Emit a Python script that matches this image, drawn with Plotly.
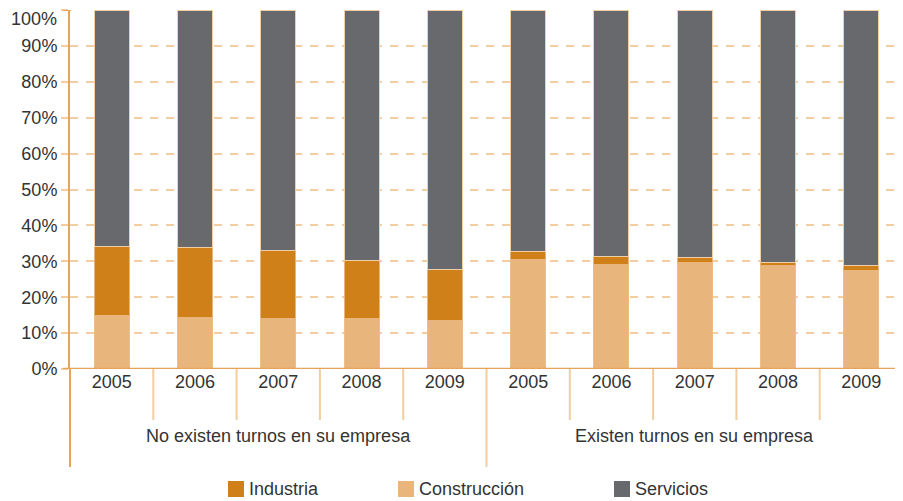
import plotly.graph_objects as go

years = ["2005", "2006", "2007", "2008", "2009", "2005", "2006", "2007", "2008", "2009"]
groups = ["No existen turnos en su empresa", "Existen turnos en su empresa"]
construccion = [14.8, 14.4, 14.0, 14.0, 13.4, 30.5, 29.2, 29.8, 28.8, 27.3]
industria = [19.4, 19.4, 19.0, 16.2, 14.4, 2.3, 2.0, 1.2, 1.0, 1.5]
servicios = [round(100 - c - i, 1) for c, i in zip(construccion, industria)]
legend_names = ["Industria", "Construcción", "Servicios"]
y_tickvals = [0, 10, 20, 30, 40, 50, 60, 70, 80, 90, 100]
y_ticktext = ["0%", "10%", "20%", "30%", "40%", "50%", "60%", "70%", "80%", "90%", "100%"]

C_IND = "#CF8019"
C_CON = "#E8B67C"
C_SER = "#68696D"
AXIS = "#E6A35A"
GRID = "#F3CCA0"
TXT = "#333333"
FONT = "Liberation Sans"
FS = 18

# the page body has an 8px margin; work in page pixels and convert
OFF = 8
W, H = 903 - OFF, 501 - OFF
PL, PT, PR, PB = 70, 10, 903, 369  # plot area in page pixels
L, T = PL - OFF, PT - OFF
R = W - (PR - OFF)
B = H - (PB - OFF)
PH = PB - PT
PW = PR - PL


def py(pix):
    return (PB - pix) / PH


def px(pix):
    return (pix - PL) / PW


xs = list(range(len(years)))
fig = go.Figure()
fig.add_trace(go.Bar(x=xs, y=construccion, name="Construcción", marker=dict(color=C_CON, line=dict(color="#EDBE88", width=1))))
fig.add_trace(go.Bar(x=xs, y=industria, name="Industria", marker=dict(color=C_IND, line=dict(color="#E8B67C", width=1))))
fig.add_trace(go.Bar(x=xs, y=servicios, name="Servicios", marker=dict(color=C_SER, line=dict(color="#F0CFA8", width=1))))

shapes = []
for k in range(1, len(years)):
    xb = k - 0.5
    y1 = py(467) if k == 5 else py(420)
    shapes.append(dict(type="line", xref="x", yref="paper", x0=xb, x1=xb, y0=0, y1=y1, line=dict(color=GRID, width=2)))
shapes.append(dict(type="line", xref="paper", yref="paper", x0=0, x1=0, y0=0, y1=py(467), line=dict(color=AXIS, width=2)))
shapes.append(dict(type="line", xref="paper", yref="y", x0=px(63), x1=px(71), y0=100, y1=100, line=dict(color=AXIS, width=2)))
shapes.append(dict(type="line", xref="paper", yref="y", x0=px(63), x1=1, y0=0, y1=0, line=dict(color=AXIS, width=2.5)))

annotations = [
    dict(x=2, y=py(436), xref="x", yref="paper", text=groups[0], showarrow=False, yanchor="middle", xanchor="center",
         font=dict(size=FS, color=TXT, family=FONT)),
    dict(x=7, y=py(436), xref="x", yref="paper", text=groups[1], showarrow=False, yanchor="middle", xanchor="center",
         font=dict(size=FS, color=TXT, family=FONT)),
    # top tick label placed as high as the page allows
    dict(x=px(58), y=py(OFF), xref="paper", yref="paper", text=y_ticktext[-1], showarrow=False,
         xanchor="right", yanchor="top", borderpad=0, font=dict(size=FS, color=TXT, family=FONT)),
]

leg_x = [228, 398, 614]
leg_col = [C_IND, C_CON, C_SER]
for name, lx, col in zip(legend_names, leg_x, leg_col):
    shapes.append(dict(type="rect", xref="paper", yref="paper", x0=px(lx), x1=px(lx + 16), y0=py(497), y1=py(481),
                       fillcolor=col, line=dict(width=0)))
    annotations.append(dict(x=px(lx + 19), y=py(489), xref="paper", yref="paper", text=name, showarrow=False,
                            xanchor="left", yanchor="middle", font=dict(size=FS, color=TXT, family=FONT)))

fig.update_layout(
    width=W, height=H,
    margin=dict(l=L, r=R, t=T, b=B, pad=0),
    barmode="stack",
    bargap=0.58,
    plot_bgcolor="white", paper_bgcolor="white",
    font=dict(family=FONT, size=FS, color=TXT),
    showlegend=False,
    shapes=shapes,
    annotations=annotations,
)
fig.update_xaxes(tickmode="array", tickvals=xs, ticktext=years, range=[-0.5, 9.5],
                 showline=False, ticks="", showgrid=False, zeroline=False, automargin=False,
                 tickfont=dict(size=FS, color=TXT, family=FONT))
fig.update_yaxes(range=[0, 100], tickmode="array", tickvals=y_tickvals, ticktext=y_ticktext[:-1] + [""],
                 showgrid=True, gridcolor=GRID,
                 griddash="8px,8px", gridwidth=2, showline=True, linecolor=AXIS, linewidth=2,
                 ticks="outside", ticklen=7, tickcolor=GRID, tickwidth=2, zeroline=False, automargin=False,
                 tickfont=dict(size=FS, color=TXT, family=FONT))

fig.write_html("out.html")
